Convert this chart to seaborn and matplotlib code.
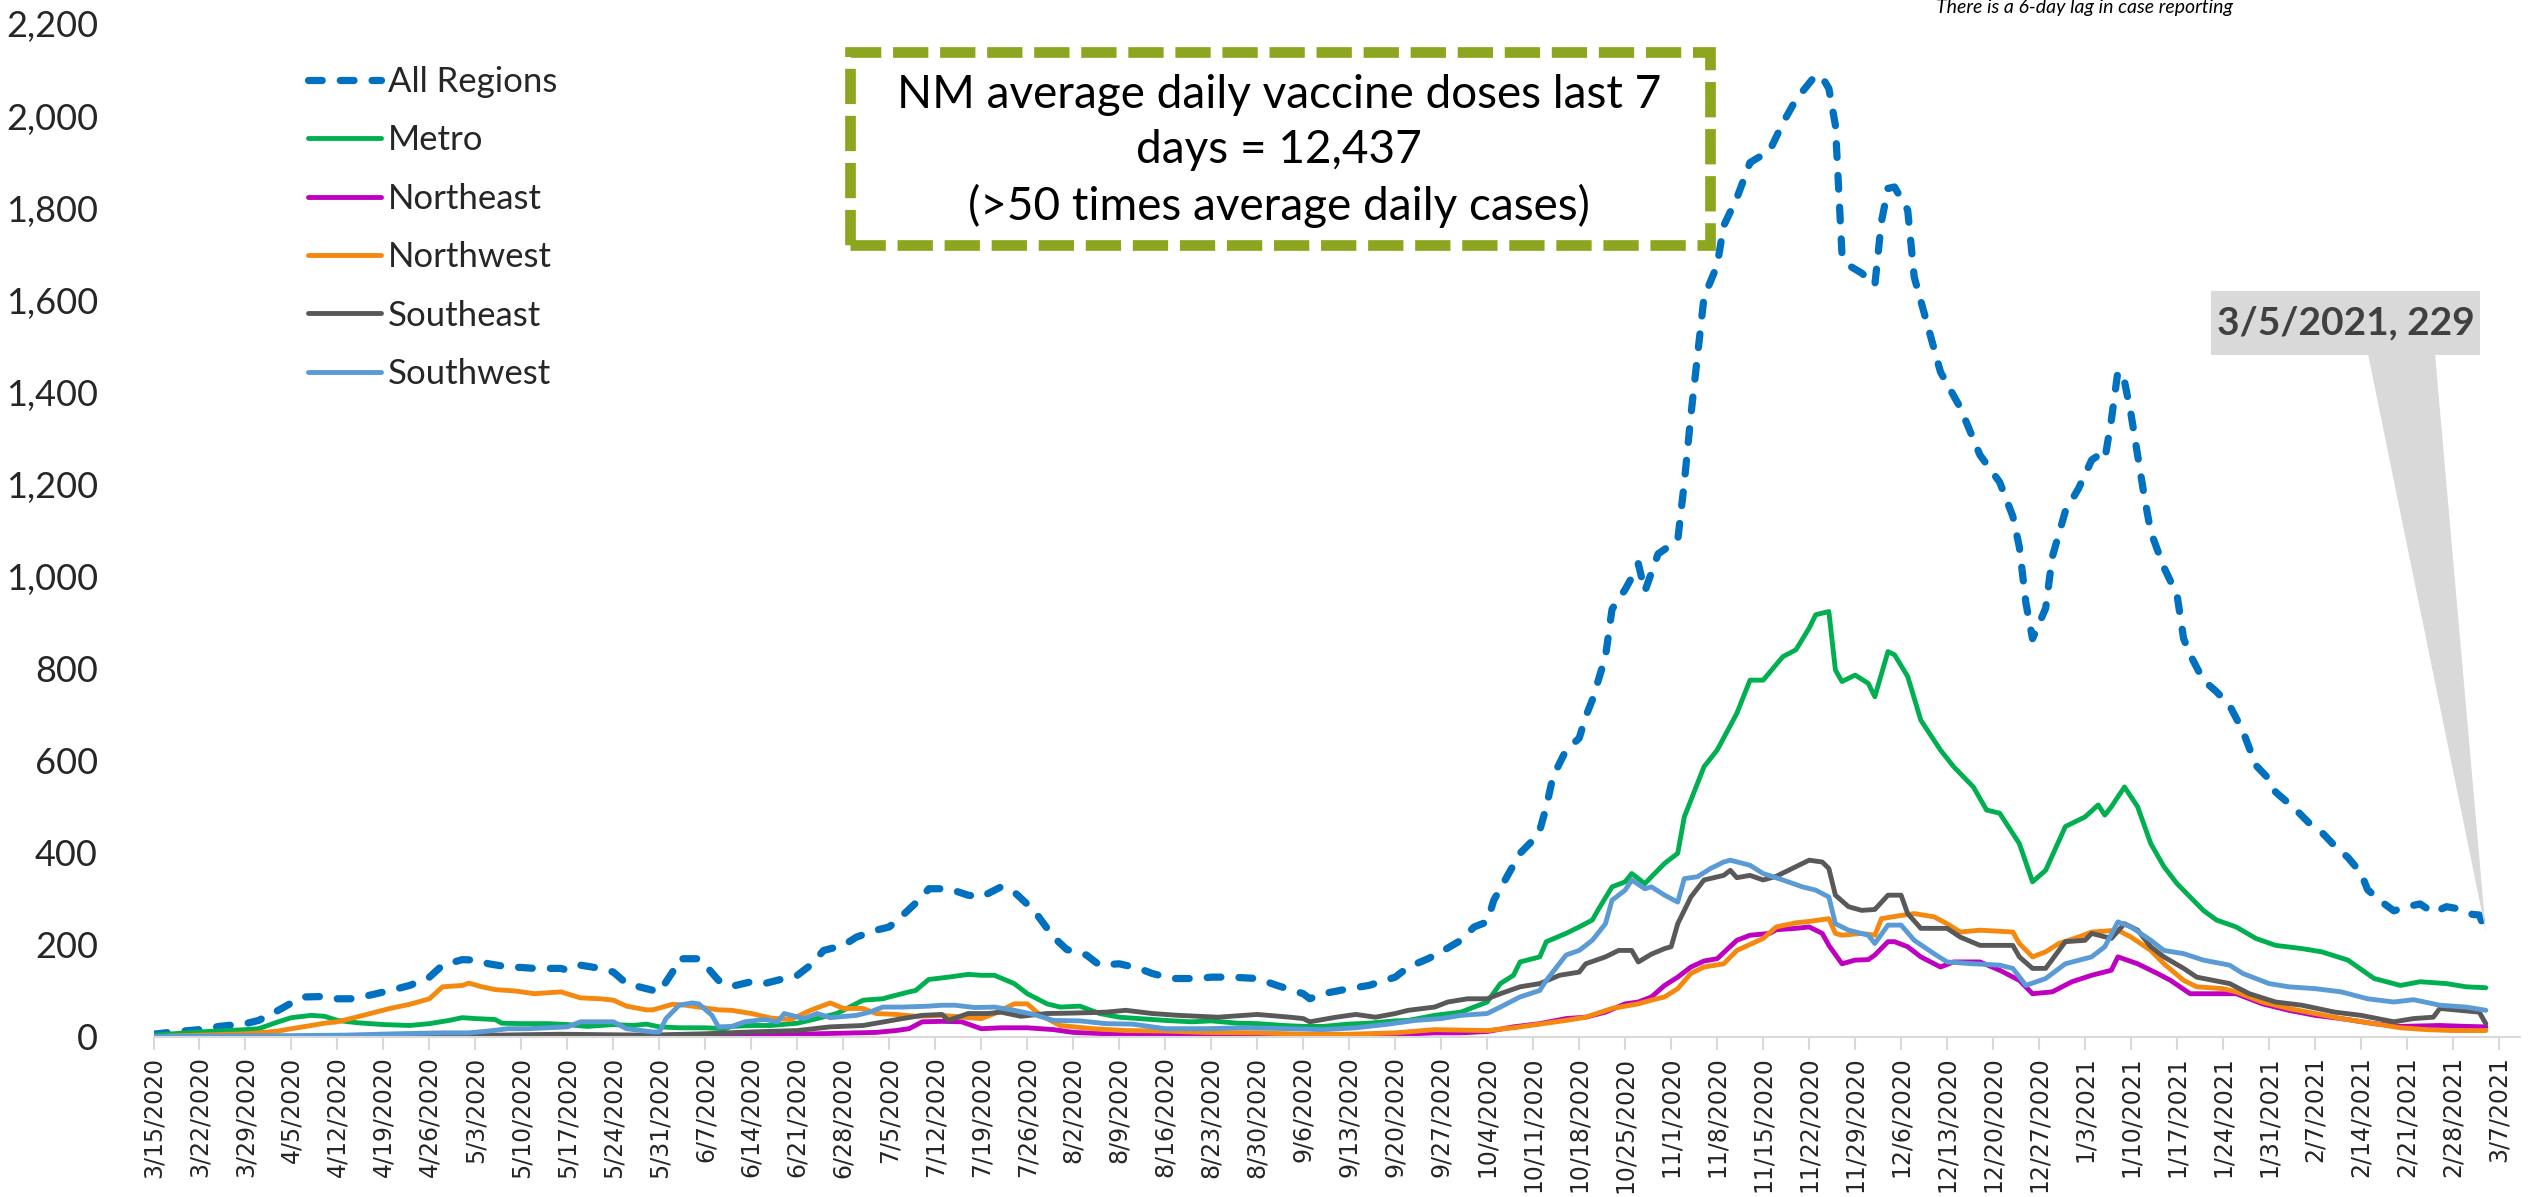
import matplotlib
matplotlib.use('Agg')
import matplotlib.pyplot as plt
import matplotlib.dates as mdates
from matplotlib.patches import Rectangle, Polygon
import pandas as pd
import seaborn as sns

START = pd.Timestamp('2020-03-15')

# days since 3/15/2020
all_days = [0, 3, 7, 10, 14, 16, 19, 21, 23, 26, 28, 30, 33, 36, 39, 42, 44, 47, 49, 51, 54, 56, 58, 62, 63,
            65, 68, 70, 72, 75, 77, 79, 80, 83, 84, 86, 88, 91, 93, 96, 98, 100, 102, 105, 107, 110, 112, 114,
            117, 118, 121, 124, 126, 129, 131, 134, 137, 139, 142, 144, 147, 150, 152, 155, 159, 161, 164, 168,
            171, 175, 176, 178, 182, 185, 189, 191, 194, 196, 199, 201, 203, 204, 206, 208, 210, 211, 212, 213,
            215, 217, 218, 219, 221, 222, 224, 225, 226, 227, 229, 232, 233, 234, 235, 236, 238, 239, 241, 243,
            246, 248, 250, 253, 254, 255, 256, 257, 258, 260, 262, 263, 264, 265, 267, 268, 270, 272, 275, 278,
            281, 283, 284, 285, 286, 287, 288, 289, 291, 293, 295, 296, 297, 298, 299, 300, 301, 302, 303, 304,
            306, 308, 309, 310, 312, 314, 316, 318, 320, 322, 323, 326, 328, 330, 332, 334, 336, 337, 339, 341,
            343, 345, 347, 349, 351, 353, 354, 355]
all_vals = [6, 11, 16, 23, 29, 36, 58, 74, 87, 88, 83, 83, 91, 101, 112, 130, 156, 168, 167, 159, 152, 151, 149,
            149, 145, 156, 149, 141, 116, 105, 98, 141, 170, 170, 156, 123, 110, 120, 116, 127, 134, 156, 188, 199,
            217, 232, 239, 264, 304, 322, 322, 308, 304, 326, 315, 275, 217, 190, 178, 156, 159, 149, 138, 127,
            127, 130, 130, 127, 112, 94, 83, 94, 105, 112, 130, 152, 170, 185, 210, 239, 250, 297, 348, 399, 428,
            449, 500, 565, 623, 649, 696, 732, 826, 929, 972, 998, 1028, 968, 1049, 1079, 1204, 1350, 1479, 1607,
            1676, 1762, 1822, 1899, 1925, 1985, 2036, 2089, 2084, 2060, 1980, 1700, 1676, 1659, 1633, 1770, 1843,
            1846, 1796, 1650, 1547, 1444, 1367, 1264, 1205, 1131, 1064, 942, 865, 898, 931, 1042, 1142, 1191, 1253,
            1263, 1254, 1340, 1446, 1424, 1352, 1263, 1175, 1097, 1020, 960, 865, 830, 775, 750, 720, 665, 590,
            560, 532, 495, 466, 445, 415, 390, 356, 320, 295, 274, 283, 289, 270, 283, 278, 266, 265, 229]

metro_days = [0, 7, 14, 16, 19, 21, 24, 26, 28, 31, 35, 39, 42, 45, 47, 49, 52, 53, 56, 60, 63, 66, 70, 73, 75,
              77, 80, 84, 87, 88, 91, 94, 98, 101, 104, 105, 108, 111, 112, 115, 116, 118, 121, 124, 126, 128, 131,
              133, 136, 138, 141, 144, 147, 150, 154, 158, 161, 165, 168, 172, 175, 178, 182, 185, 189, 191, 195,
              199, 203, 205, 207, 208, 211, 212, 215, 217, 219, 220, 222, 224, 225, 227, 228, 230, 232, 233, 236,
              238, 241, 243, 245, 248, 250, 252, 253, 255, 256, 257, 259, 261, 262, 264, 265, 267, 269, 272, 274,
              277, 279, 281, 284, 286, 288, 291, 294, 296, 297, 298, 300, 302, 304, 306, 308, 312, 314, 317, 320,
              323, 327, 330, 334, 338, 342, 345, 349, 352, 355]
metro_vals = [4, 11, 16, 18, 33, 42, 47, 45, 36, 31, 27, 25, 29, 36, 42, 40, 38, 30, 29, 29, 27, 23, 27, 25, 28,
              22, 20, 20, 18, 23, 25, 25, 30, 40, 51, 58, 80, 83, 87, 98, 101, 125, 130, 136, 134, 134, 116, 94,
              72, 65, 67, 51, 43, 40, 36, 33, 35, 30, 29, 25, 23, 23, 28, 30, 35, 36, 47, 54, 76, 116, 134, 163,
              174, 207, 225, 239, 254, 279, 326, 337, 355, 333, 348, 377, 399, 478, 587, 623, 703, 775, 775, 826,
              841, 888, 917, 924, 797, 772, 786, 768, 739, 837, 830, 783, 688, 623, 587, 543, 493, 486, 420, 337,
              362, 457, 478, 504, 482, 500, 543, 500, 420, 370, 333, 275, 254, 239, 214, 199, 192, 185, 167, 127,
              112, 120, 116, 109, 107]

ne_days = [0, 30, 60, 80, 98, 110, 113, 115, 117, 120, 123, 126, 129, 133, 137, 140, 145, 150, 156, 164, 172,
           180, 187, 195, 199, 203, 207, 211, 215, 218, 221, 224, 226, 228, 230, 232, 234, 236, 238, 241, 243,
           246, 247, 250, 252, 254, 255, 257, 259, 261, 262, 264, 265, 267, 269, 272, 274, 278, 281, 284, 286,
           289, 292, 295, 298, 299, 302, 305, 307, 310, 312, 317, 321, 325, 329, 333, 338, 342, 348, 352, 355]
ne_vals = [0, 1, 2, 3, 6, 10, 14, 18, 33, 34, 33, 18, 20, 20, 16, 10, 7, 6, 6, 4, 2, 3, 4, 9, 9, 12, 22, 29, 40,
           43, 54, 72, 76, 87, 112, 130, 152, 165, 170, 210, 221, 225, 233, 236, 239, 225, 199, 159, 167, 168,
           178, 207, 207, 196, 174, 152, 163, 163, 145, 123, 94, 98, 120, 134, 145, 174, 159, 138, 123, 94, 94,
           94, 72, 58, 47, 40, 29, 23, 25, 23, 22]

nw_days = [0, 7, 14, 16, 19, 21, 24, 26, 28, 30, 33, 36, 39, 42, 44, 47, 48, 50, 52, 55, 58, 62, 65, 68, 70, 72,
           75, 76, 79, 81, 83, 86, 88, 91, 94, 97, 100, 103, 105, 108, 110, 113, 116, 120, 124, 126, 128, 131,
           133, 135, 138, 143, 148, 154, 160, 168, 175, 182, 189, 195, 203, 207, 211, 215, 218, 222, 226, 228,
           230, 232, 234, 236, 239, 241, 245, 247, 250, 252, 255, 256, 257, 260, 262, 263, 266, 268, 271, 273,
           275, 278, 283, 284, 286, 288, 290, 293, 295, 299, 301, 304, 306, 309, 311, 315, 317, 321, 325, 329,
           333, 338, 342, 346, 350, 355]
nw_vals = [1, 4, 7, 9, 13, 18, 25, 30, 33, 40, 51, 62, 71, 83, 109, 112, 117, 109, 103, 100, 94, 98, 85, 83, 80,
           67, 59, 59, 71, 69, 65, 59, 58, 51, 41, 38, 58, 74, 62, 62, 51, 49, 45, 47, 42, 40, 51, 72, 72, 47,
           25, 18, 14, 13, 10, 9, 6, 6, 9, 16, 14, 20, 28, 36, 43, 62, 72, 80, 87, 105, 138, 152, 159, 188, 214,
           239, 248, 251, 257, 225, 221, 225, 221, 257, 264, 268, 261, 246, 228, 232, 228, 203, 174, 185, 203,
           217, 228, 232, 217, 188, 159, 123, 109, 105, 98, 76, 62, 51, 40, 29, 20, 16, 14, 14]

se_days = [0, 40, 52, 62, 75, 84, 91, 98, 103, 108, 112, 114, 117, 120, 121, 124, 127, 129, 132, 136, 140, 145,
           148, 152, 156, 162, 168, 173, 175, 176, 180, 183, 186, 189, 191, 195, 197, 200, 203, 205, 208, 211,
           214, 217, 218, 221, 223, 225, 226, 228, 230, 231, 232, 234, 236, 239, 240, 241, 243, 245, 247, 250,
           252, 254, 255, 256, 258, 260, 262, 264, 266, 267, 269, 273, 275, 278, 283, 284, 286, 288, 291, 294,
           295, 298, 300, 302, 304, 306, 309, 311, 316, 319, 323, 327, 332, 336, 341, 344, 347, 348, 351, 354,
           355]
se_vals = [1, 1, 4, 6, 4, 7, 11, 14, 22, 25, 35, 40, 47, 49, 36, 51, 51, 54, 45, 51, 52, 54, 58, 51, 47, 43, 49,
           43, 40, 33, 43, 49, 43, 51, 58, 65, 76, 83, 83, 94, 109, 116, 134, 141, 159, 174, 188, 188, 163, 180,
           192, 196, 246, 304, 341, 351, 362, 346, 351, 341, 349, 370, 384, 380, 366, 308, 283, 275, 277, 308,
           308, 268, 236, 236, 217, 199, 199, 174, 149, 149, 207, 210, 225, 214, 246, 232, 196, 174, 149, 130,
           116, 94, 76, 69, 54, 47, 33, 40, 43, 62, 58, 54, 29]

sw_days = [0, 21, 29, 37, 44, 48, 51, 54, 57, 60, 63, 65, 68, 70, 72, 76, 77, 78, 80, 82, 83, 85, 86, 88, 90, 93,
           95, 96, 99, 101, 103, 107, 109, 111, 114, 118, 120, 122, 125, 128, 131, 134, 137, 141, 145, 149, 154,
           160, 166, 173, 178, 183, 188, 192, 196, 199, 203, 205, 208, 211, 212, 215, 217, 219, 221, 222, 224,
           225, 227, 228, 230, 232, 233, 235, 237, 239, 240, 243, 245, 248, 251, 253, 255, 256, 258, 261, 262,
           264, 266, 268, 271, 273, 277, 281, 283, 285, 288, 291, 295, 297, 299, 301, 304, 306, 309, 312, 316,
           318, 322, 325, 329, 333, 337, 341, 344, 348, 352, 355]
sw_vals = [1, 3, 4, 7, 9, 9, 13, 18, 18, 20, 22, 33, 33, 33, 18, 11, 11, 40, 69, 74, 72, 47, 22, 23, 33, 38, 33,
           51, 40, 51, 42, 47, 54, 65, 65, 67, 69, 69, 64, 65, 58, 49, 36, 35, 29, 28, 18, 18, 20, 18, 16, 20,
           28, 36, 40, 47, 51, 65, 87, 101, 123, 178, 188, 210, 246, 297, 319, 341, 322, 326, 308, 293, 344, 348,
           366, 380, 384, 373, 355, 341, 326, 319, 304, 246, 232, 221, 203, 243, 243, 210, 181, 163, 159, 156,
           149, 112, 127, 159, 174, 196, 250, 239, 210, 188, 181, 167, 156, 138, 116, 109, 105, 98, 83, 76, 81,
           69, 65, 58]

series = [
    ('All Regions', all_days, all_vals, '#0070C0'),
    ('Metro', metro_days, metro_vals, '#00B050'),
    ('Northeast', ne_days, ne_vals, '#C000C0'),
    ('Northwest', nw_days, nw_vals, '#F5880F'),
    ('Southeast', se_days, se_vals, '#595959'),
    ('Southwest', sw_days, sw_vals, '#5B9BD5'),
]

sns.set_theme(style='white')
plt.rcParams['font.family'] = ['Lato', 'DejaVu Sans']

W, H = 2529, 1197
fig = plt.figure(figsize=(W / 100, H / 100), dpi=100)
ax = fig.add_axes([153.5 / W, 1 - 1037 / H, (2520 - 153.5) / W, 1013 / H])


def fpx(x, y):
    # pixel position in the picture -> figure fraction
    return x / W, 1 - y / H


for name, days, vals, color in series:
    df = pd.DataFrame({'date': START + pd.to_timedelta(days, unit='D'), 'cases': vals})
    if name == 'All Regions':
        sns.lineplot(data=df, x='date', y='cases', ax=ax, color=color, lw=5.2, estimator=None,
                     linestyle=(0, (1.9, 2.5)), dash_capstyle='round', label=name)
    else:
        sns.lineplot(data=df, x='date', y='cases', ax=ax, color=color, lw=3.5, estimator=None,
                     solid_joinstyle='round', label=name)

ax.set_xlim(START, START + pd.Timedelta(days=360.2))
ax.set_ylim(0, 2200)
ax.set_xlabel('')
ax.set_ylabel('')

tick_dates = pd.date_range('2020-03-15', '2021-03-07', freq='7D')
ax.set_xticks(tick_dates)
ax.set_xticklabels([f'{d.month}/{d.day}/{d.year}' for d in tick_dates], rotation=90,
                   fontfamily='DejaVu Sans', fontsize=17)
ax.tick_params(axis='x', length=9, width=1.5, color='#D9D9D9', pad=5, bottom=True)

yt = list(range(0, 2201, 200))
ax.set_yticks(yt)
ax.set_yticklabels([f'{v:,}' for v in yt], fontsize=26)
ax.tick_params(axis='y', length=0, pad=40)

for s in ['top', 'right', 'left']:
    ax.spines[s].set_visible(False)
ax.spines['bottom'].set_color('#D9D9D9')
ax.spines['bottom'].set_linewidth(1.5)
ax.grid(False)

ax.legend(loc='upper left', bbox_to_anchor=fpx(308, 66), bbox_transform=fig.transFigure,
          frameon=False, fontsize=25, handlelength=2.1, handletextpad=0.2, labelspacing=0.76,
          borderpad=0, borderaxespad=0)

# vaccine box
x0, y0 = fpx(850, 245)
fig.add_artist(Rectangle((x0, y0), 860 / W, 193 / H, fill=False, ec='#8DA61F', lw=7.7,
                         linestyle=(0, (3.3, 1.1)), transform=fig.transFigure))
fig.text(1279 / W, 1 - 151 / H,
         'NM average daily vaccine doses last 7\ndays = 12,437\n(>50 times average daily cases)',
         ha='center', va='center', fontsize=33, linespacing=1.36, color='black')

fig.text(2085 / W, 1 - 13 / H, 'There is a 6-day lag in case reporting', style='italic',
         fontsize=14, ha='center', va='baseline', color='black')

# callout for last point
tip_disp = ax.transData.transform((mdates.date2num(START + pd.Timedelta(days=all_days[-1])), all_vals[-1]))
tip = fig.transFigure.inverted().transform(tip_disp)
fig.add_artist(Polygon([fpx(2368, 354), fpx(2435, 354), tuple(tip)], closed=True,
                       fc='#D9D9D9', ec='none', transform=fig.transFigure))
bx, by = fpx(2211, 355)
fig.add_artist(Rectangle((bx, by), 269 / W, 64 / H, fc='#D9D9D9', ec='none', transform=fig.transFigure))
fig.text(2345.5 / W, 1 - 323 / H, '3/5/2021, 229', ha='center', va='center', fontsize=28,
         fontweight='bold', color='#404040')

fig.savefig('out.png', dpi=100)
